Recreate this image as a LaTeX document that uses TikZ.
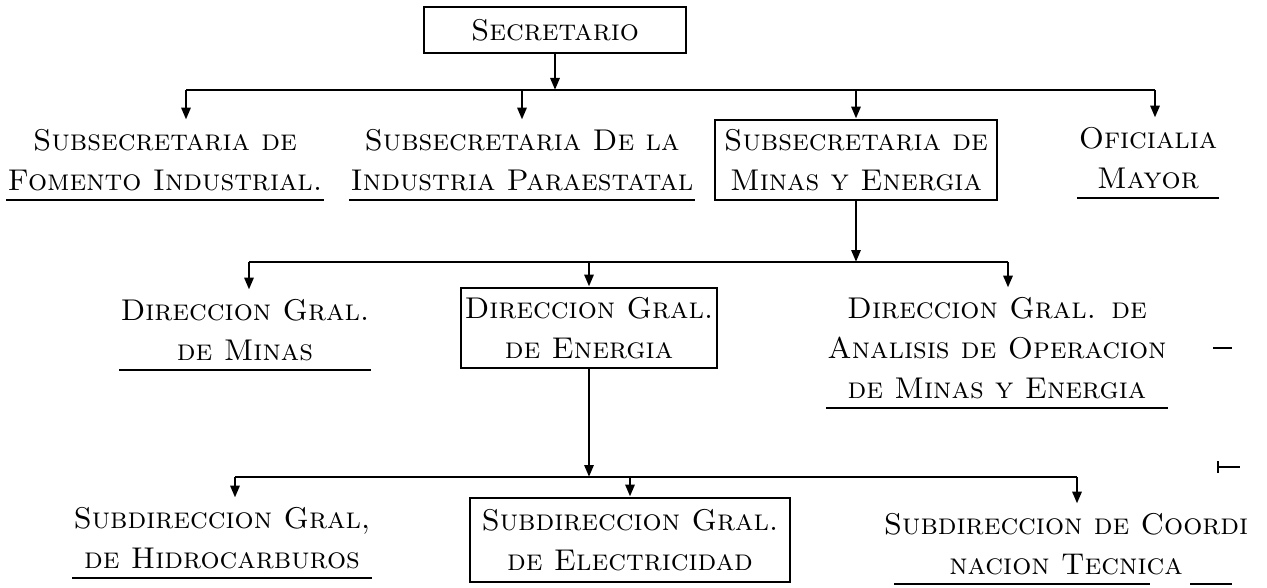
\documentclass[tikz,border=0pt]{standalone}
\usepackage{fontspec}
\usetikzlibrary{arrows.meta, positioning}

\begin{document}
\begin{tikzpicture}[x=0.5pt, y=-0.5pt, line width=1.4pt, >={Triangle[length=6pt,width=4.5pt]},
  font=\fontsize{15}{20}\selectfont\scshape]
\tikzstyle{office}=[draw, rectangle, align=center, inner sep=1.5pt]
\tikzstyle{unit}=[align=center, anchor=south, inner xsep=0pt, inner ysep=4pt,
  append after command={(\tikzlastnode.south west) edge[-] (\tikzlastnode.south east)}]

\useasboundingbox (0,0) rectangle (1267,588);

% primer nivel
\node[office, minimum width=131pt, minimum height=23pt] (sec) at (555,30) {Secretario};
\node[unit] (fom) at (165,200) {Subsecretaria de\\Fomento Industrial.};
\node[unit] (par) at (522,200) {Subsecretaria De la\\Industria Paraestatal};
\node[office, minimum width=141pt, minimum height=40pt] (smin) at (856,160) {Subsecretaria de\\Minas y Energia};
\node[unit] (ofi) at (1148,198) {Oficialia\\Mayor};

% segundo nivel
\node[unit] (dmin) at (245,370) {Direccion Gral.\\de Minas};
\node[office, minimum width=128pt, minimum height=40pt] (dene) at (589,328) {Direccion Gral.\\de Energia};
\node[unit] (dana) at (997,408) {Direccion Gral. de\\Analisis de Operacion\\de Minas y Energia};

% tercer nivel
\node[unit] (hid) at (222,578) {Subdireccion Gral,\\de Hidrocarburos};
\node[office, minimum width=160pt, minimum height=42pt] (ele) at (630,540) {Subdireccion Gral.\\de Electricidad};
\node[align=center, anchor=south, inner sep=4pt] (coo) at (1066,584) {Subdireccion de Coordi\\nacion Tecnica};

\coordinate (b1w) at (186,90);
\coordinate (b1e) at (1155,90);
\coordinate (b2w) at (249,262);
\coordinate (b2e) at (1008,262);
\coordinate (b3w) at (235,477);
\coordinate (b3e) at (1077,477);

\draw[->] (sec.south) -- (sec.south |- b1w);
\draw (b1w) -- (b1e);
\draw[->] (b1w) -- (b1w |- fom.north);
\draw[->] (par.north |- b1w) -- (par.north);
\draw[->] (smin.north |- b1w) -- (smin.north);
\draw[->] (b1e) -- (b1e |- ofi.north);

\draw[->] (smin.south) -- (smin.south |- b2w);
\draw (b2w) -- (b2e);
\draw[->] (b2w) -- (b2w |- dmin.north);
\draw[->] (dene.north |- b2w) -- (dene.north);
\draw[->] (b2e) -- (b2e |- dana.north);

\draw[->] (dene.south) -- (dene.south |- b3w);
\draw (b3w) -- (b3e);
\draw[->] (b3w) -- (b3w |- hid.north);
\draw[->] (ele.north |- b3w) -- (ele.north);
\draw[->] (b3e) -- (b3e |- coo.north);

% subrayado partido y marcas sueltas
\draw ([xshift=-86pt]coo.south) -- ([xshift=42pt]coo.south);
\draw ([xshift=62pt]coo.south) -- ([xshift=83pt]coo.south);
\draw (1213,348) -- (1232,348);
\draw (1218,461) -- (1218,473) (1218,467) -- (1240,467);

\end{tikzpicture}
\end{document}
